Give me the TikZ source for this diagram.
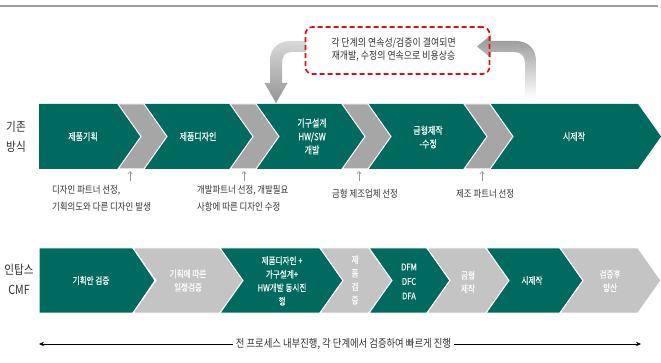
\documentclass[tikz,border=0pt]{standalone}
\usepackage{fontspec}
\setmainfont{Noto Sans CJK KR}[FakeStretch=0.85]
\newfontfamily\segfont{Noto Sans CJK KR}[FakeStretch=0.8, FakeBold=0.3]
\usetikzlibrary{arrows.meta}
\definecolor{cmfgreen}{RGB}{0,106,94}
\definecolor{upgray}{RGB}{166,166,166}
\definecolor{lowgray}{RGB}{196,196,196}
\definecolor{rulegray}{RGB}{160,160,160}
\definecolor{notegray}{RGB}{150,150,150}
\definecolor{boxred}{RGB}{235,10,10}
\definecolor{txtdark}{RGB}{50,50,50}
\tikzset{
  seglabel/.style={text=white, font=\segfont\fontsize{9.5}{13.5}\selectfont, align=center, inner sep=0pt},
  notelabel/.style={text=txtdark, font=\fontsize{9.9}{17.5}\selectfont, align=left, anchor=west, inner sep=0pt},
  sidelabel/.style={text=txtdark, font=\fontsize{12.5}{20}\selectfont, align=center, inner sep=0pt},
  uparrow/.style={draw=notegray, line width=0.6pt, -{Straight Barb[length=2.5pt,width=4.5pt]}},
  procarrow/.style={draw=black, line width=0.7pt, -{Stealth[length=5pt,width=4.5pt]}},
  chevup/.style={fill=upgray, draw=white, line width=1pt},
  segbox/.style={draw=white, line width=1pt},
}
\begin{document}
\begin{tikzpicture}[x=1pt,y=-1pt]
\useasboundingbox (0,0) rectangle (661,363);
% top rule
\coordinate (rl) at (0,6);
\coordinate (rr) at (658,6);
\draw[rulegray, line width=1.8pt] (rl) -- (rr);

% ---------- upper band ----------
\fill[cmfgreen] (39,104) -- (638,104) -- (661,136.5) -- (638,169) -- (39,169) -- cycle;
\foreach \L in {118,230,342,464}{
  \path[chevup] (\L,104) -- ++(26,0) -- ++(23,32.5) -- ++(-23,32.5) -- ++(-26,0) -- ++(23,-32.5) -- cycle;
}
\node[seglabel, font=\segfont\fontsize{10}{13.5}\selectfont] (u1) at (83,136.5) {제품기획};
\node[seglabel, font=\segfont\fontsize{10}{13.5}\selectfont] (u2) at (198,136.5) {제품디자인};
\node[seglabel, font=\segfont\fontsize{10}{13.5}\selectfont] (u3) at (312,136.5) {기구설계\\HW/SW\\개발};
\node[seglabel, font=\segfont\fontsize{10}{13.5}\selectfont] (u4) at (428,137) {금형제작\\-수정};
\node[seglabel, font=\segfont\fontsize{10}{13.5}\selectfont] (u5) at (574,136.5) {시제작};

% small up arrows and notes
\foreach \x/\n in {130/a,244/b,359/c,482/d}{
  \coordinate (ab\n) at (\x,181);
  \coordinate (at\n) at (\x,171);
  \draw[uparrow] (ab\n) -- (at\n);
}
\node[notelabel] (n1) at (52,198.5) {디자인 파트너 선정,\\기획의도와 다른 디자인 발생};
\node[notelabel] (n2) at (197,198.5) {개발파트너 선정, 개발필요\\사항에 따른 디자인 수정};
\node[notelabel] (n3) at (332,194) {금형 제조업체 선정};
\node[notelabel] (n4) at (456,194) {제조 파트너 선정};

% side labels
\node[sidelabel] (s1) at (16,137) {기존\\방식};
\node[sidelabel] (s2) at (19,279) {인탑스\\CMF};

% ---------- curved grey arrows ----------
\shade[top color=black!15, bottom color=black!42]
  (306,41) -- (290,41) .. controls (278,41) and (270,49) .. (270,61) -- (270,83)
  -- (264.5,83) -- (276,103) -- (287.5,83) -- (282,83) -- (282,63)
  .. controls (282,56) and (285,52) .. (292,52) -- (306,52) -- cycle;
\shade[top color=black!42, bottom color=white]
  (536,98) -- (536,61) .. controls (536,49) and (528,41) .. (516,41) -- (491,41)
  -- (491,35) -- (477,46.5) -- (491,58) -- (491,52) -- (514,52)
  .. controls (521,52) and (525,56) .. (525,63) -- (525,98) -- cycle;

% dashed note box
\node[draw=boxred, line width=1.6pt, dash pattern=on 5pt off 3pt, rounded corners=7pt,
      minimum width=184pt, minimum height=47pt, inner sep=0pt] (note) at (397.5,50.5) {};
\node[text=txtdark, font=\fontsize{10.5}{12.7}\selectfont, align=center, inner sep=0pt] (notetext) at (393.5,50) {각 단계의 연속성/검증이 결여되면\\재개발, 수정의 연속으로 비용상승};

% ---------- lower band ----------
\path[segbox, fill=cmfgreen] (39,248) -- (133,248) -- (155,280.5) -- (133,313) -- (39,313) -- cycle;
\foreach \a/\b/\c in {133/220/lowgray,220/320/cmfgreen,320/369/lowgray,369/427/cmfgreen,427/486/lowgray,486/560/cmfgreen,560/638/lowgray}{
  \path[segbox, fill=\c] (\a,248) -- (\b,248) -- ({\b+23},280.5) -- (\b,313) -- (\a,313) -- ({\a+23},280.5) -- cycle;
}
\node[seglabel] (l1) at (91,280.5) {기획안 검증};
\node[seglabel] (l2) at (188,280.5) {기획에 따른\\일정검증};
\node[seglabel] (l3) at (282,281) {제품디자인 +\\가구설계+\\HW개발 동시진\\행};
\node[seglabel] (l4) at (355,280) {제\\품\\검\\증};
\node[seglabel, font=\segfont\fontsize{9.5}{14.5}\selectfont] (l5) at (409,281.5) {DFM\\DFC\\DFA};
\node[seglabel] (l6) at (468,282) {금형\\제작};
\node[seglabel] (l7) at (532,280.5) {시제작};
\node[seglabel] (l8) at (610,281) {검증후\\양산};

% bottom process arrow
\node[text=txtdark, font=\fontsize{11}{12}\selectfont, inner xsep=3pt, inner ysep=0pt] (proc) at (343.5,344) {전 프로세스 내부진행, 각 단계에서 검증하여 빠르게 진행};
\coordinate (pl) at (39,344);
\coordinate (pr) at (641,344);
\draw[procarrow] (proc.west) -- (pl);
\draw[procarrow] (proc.east) -- (pr);
\end{tikzpicture}
\end{document}
